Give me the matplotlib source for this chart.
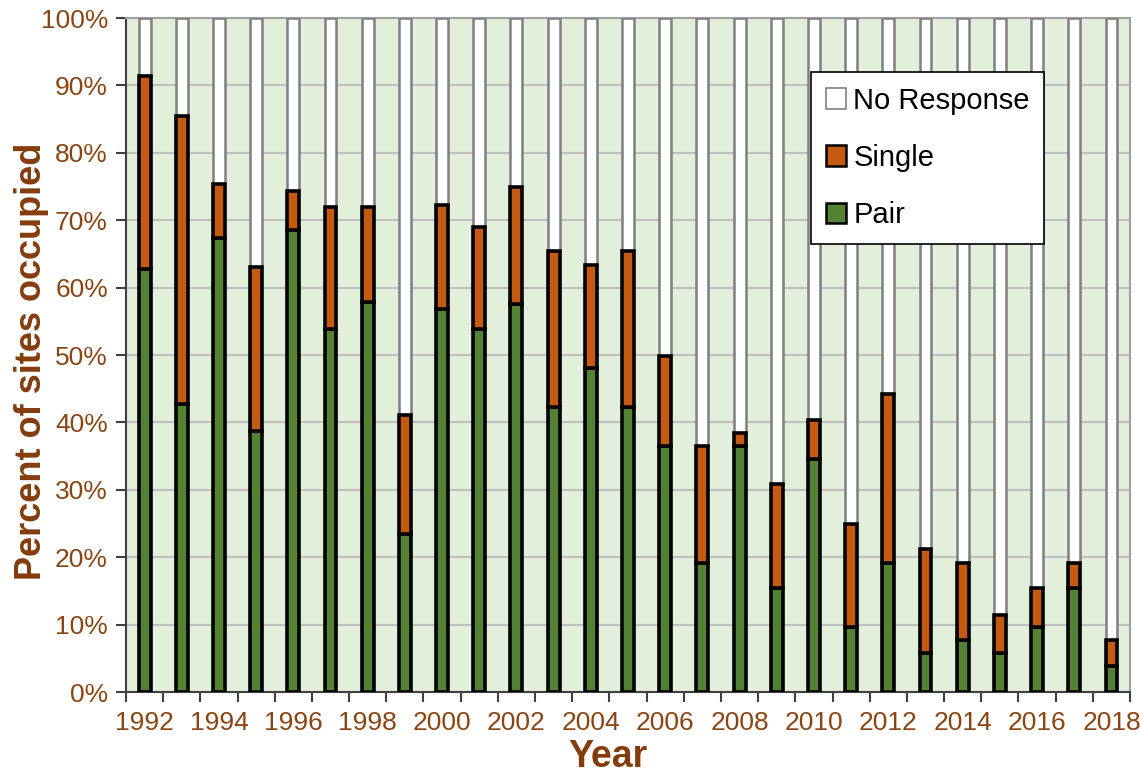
import numpy as np
import matplotlib
matplotlib.use("Agg")
import matplotlib.pyplot as plt
from matplotlib.patches import Patch
from matplotlib.ticker import FixedLocator

plt.rcParams['font.family'] = ['Liberation Sans', 'DejaVu Sans']

# data (percent of sites)
years = list(range(1992, 2019))
pair = [62.8, 42.7, 67.4, 38.7, 68.5, 53.9, 57.9, 23.4, 56.8, 53.9,
        57.6, 42.3, 48.1, 42.3, 36.5, 19.2, 36.5, 15.4, 34.6, 9.6,
        19.2, 5.8, 7.7, 5.8, 9.6, 15.4, 3.8]
single = [28.6, 42.8, 8.0, 24.4, 5.8, 18.1, 14.1, 17.7, 15.5, 15.1,
          17.3, 23.1, 15.3, 23.1, 13.4, 17.3, 2.0, 15.4, 5.8, 15.4,
          25.0, 15.4, 11.5, 5.7, 5.8, 3.8, 3.9]

pair = np.array(pair)
single = np.array(single)
occupied = pair + single
no_resp = 100 - occupied

brown = '#8B4513'
dark_brown = '#843C0C'
c_pair = '#548235'
c_single = '#C55A11'

fig = plt.figure(figsize=(11.41, 7.76), dpi=100)
ax = fig.add_axes([0.1104, 0.1082, 0.8800, 0.8686])
ax.set_facecolor('#E2EFDA')

x = np.arange(len(years))
w = 0.32
ax.bar(x, no_resp, w, bottom=occupied, color='white', edgecolor='#7F7F7F', linewidth=1.8, zorder=3)
ax.bar(x, pair, w, color=c_pair, edgecolor='black', linewidth=2.6, zorder=3)
ax.bar(x, single, w, bottom=pair, color=c_single, edgecolor='black', linewidth=2.6, zorder=3)

ax.set_xlim(-0.5, len(years) - 0.5)
ax.set_ylim(0, 100)
ax.set_yticks(np.arange(0, 101, 10))
ax.set_yticklabels([f'{v}%' for v in range(0, 101, 10)])
ax.yaxis.grid(True, color='#BFBFBF', linewidth=1.5, zorder=0)
ax.set_axisbelow(True)

# year labels every other year, tick marks between categories
ax.set_xticks(x[::2])
ax.set_xticklabels([str(y) for y in years[::2]])
ax.xaxis.set_minor_locator(FixedLocator(np.arange(-0.5, len(years), 1)))
ax.tick_params(axis='x', which='major', length=0, pad=14, labelsize=19, labelcolor=brown)
ax.tick_params(axis='x', which='minor', length=7, width=1.5, color='#404040')
ax.tick_params(axis='y', length=7, width=1.5, color='#404040', labelsize=19, labelcolor=brown, pad=6)

for s in ['top', 'right']:
    ax.spines[s].set_color('#A0A0A0')
    ax.spines[s].set_linewidth(1.5)
for s in ['left', 'bottom']:
    ax.spines[s].set_color('#404040')
    ax.spines[s].set_linewidth(1.5)

ax.set_xlabel('Year', fontsize=27, fontweight='bold', color=dark_brown, va='center')
ax.xaxis.set_label_coords(0.48, -0.097)
ax.set_ylabel('Percent of sites occupied', fontsize=26, fontweight='bold', color=dark_brown, va='center')
ax.yaxis.set_label_coords(-0.094, 0.49)

handles = [Patch(facecolor='white', edgecolor='#7F7F7F', linewidth=1.2, label='No Response'),
           Patch(facecolor=c_single, edgecolor='black', linewidth=1.8, label='Single'),
           Patch(facecolor=c_pair, edgecolor='black', linewidth=1.8, label='Pair')]
leg = ax.legend(handles=handles, loc='upper left', bbox_to_anchor=(0.7108, 0.9072),
                bbox_transform=fig.transFigure, borderaxespad=0, fontsize=21,
                handlelength=0.7, handleheight=0.7, handletextpad=0.25,
                labelspacing=1.0, borderpad=0.5, fancybox=False, framealpha=1,
                edgecolor='black')
leg.get_frame().set_linewidth(1.2)
leg.set_zorder(5)

fig.savefig('out.png', dpi=100)
